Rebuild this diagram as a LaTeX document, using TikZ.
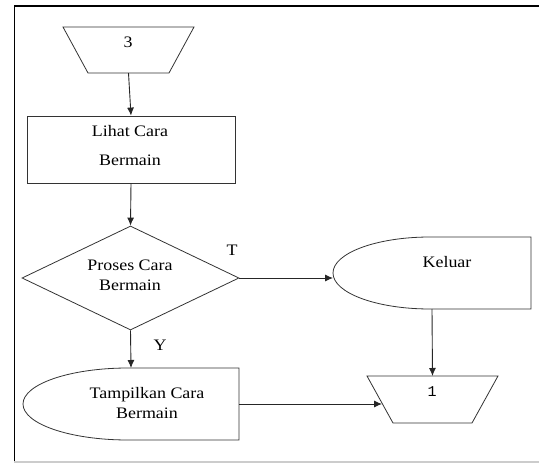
\documentclass[tikz,border=0pt]{standalone}
\usepackage{fontspec}
\setmainfont[FakeStretch=1.12]{Liberation Serif}
\newfontfamily\monofnt{Liberation Mono}
\usetikzlibrary{shapes.geometric,arrows.meta,calc}
\begin{document}
\begin{tikzpicture}[x=1pt,y=-1pt,
  shp/.style={draw=black!80,line width=0.8pt},
  holder/.style={inner sep=0pt,outer sep=0pt,minimum width=#1},
  txt/.style={font=\fontsize{16}{20}\selectfont,align=center,inner sep=0pt},
  conn/.style={draw=black!85,line width=0.9pt,-{Latex[length=8pt,width=7pt]}},
  line/.style={draw=black!85,line width=0.9pt}]
\useasboundingbox (0,0) rectangle (539,463);
% frame
\draw[black,line width=1.5pt] (14,6) -- (539,6);
\draw[black,line width=1pt] (14,6) -- (14,462);
\draw[black!20,line width=1.5pt] (14,462) -- (539,462);

% trapezoid 3
\node[holder=131pt,minimum height=46pt] (t3) at (128.5,50) {};
\draw[shp] (t3.north west) -- (t3.north east) -- ([xshift=-25pt]t3.south east) -- ([xshift=25pt]t3.south west) -- cycle;
\node[txt] (t3txt) at (128,42) {3};

% rectangle
\node[shp,minimum width=208pt,minimum height=67pt,inner sep=0pt] (rect) at (131,149.5) {};
\node[txt] (recttxt) at (130,145.5) {Lihat Cara\\[9pt]Bermain};

% diamond
\node[shp,diamond,minimum width=217pt,minimum height=104pt,aspect=2.09,inner sep=0pt] (dia) at (130.5,278) {};
\node[txt] (diatxt) at (130,275) {Proses Cara\\Bermain};

% Tampilkan display-like shape
\node[holder=216pt,minimum height=72pt] (tc) at (131,404) {};
\draw[shp] (128,440) -- (239,440) -- (239,368) -- (128,368)
  arc[start angle=270,end angle=90,x radius=105,y radius=36];
\node[txt] (tctxt) at (147,403) {Tampilkan Cara\\Bermain};

% Keluar shape
\node[holder=198pt,minimum height=72pt] (kel) at (432,273) {};
\draw[shp] (430,309) -- (531,309) -- (531,237) -- (430,237)
  arc[start angle=270,end angle=90,x radius=97,y radius=36];
\node[txt] (keltxt) at (447,262) {Keluar};

% trapezoid 1
\node[holder=131pt,minimum height=47pt] (t1) at (432.5,399.5) {};
\draw[shp] (t1.north west) -- (t1.north east) -- ([xshift=-26pt]t1.south east) -- ([xshift=26pt]t1.south west) -- cycle;
\node[txt,font=\monofnt\fontsize{15}{18}\selectfont] (t1txt) at (432,392) {1};

% labels
\node[txt] (lt) at (232,250) {T};
\node[txt] (ly) at (160,345) {Y};

% connectors
\draw[conn] (t3.south) -- (rect.north);
\draw[conn] (rect.south) -- (dia.north);
\draw[conn] (dia.south) -- (tc.north);
\draw[conn] (dia.east) -- (dia.east -| kel.west);
\draw[conn] (kel.south) -- (t1.north);
\coordinate (t1in) at (382,404);
\draw[conn] (tc.east) -- (t1in);
\end{tikzpicture}
\end{document}
